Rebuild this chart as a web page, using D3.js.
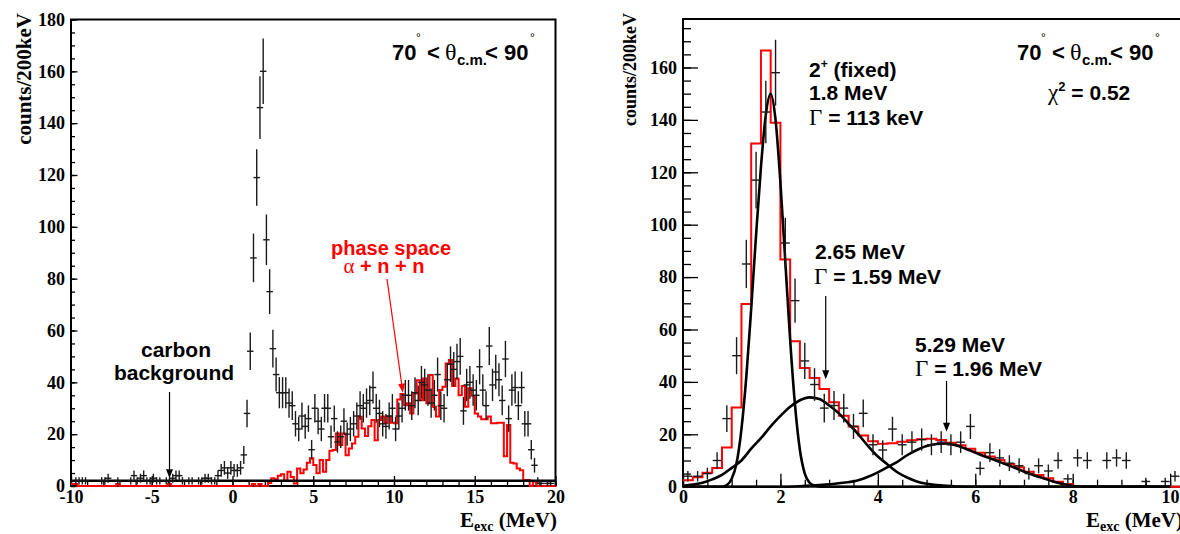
<!DOCTYPE html>
<html>
<head>
<meta charset="utf-8">
<script src="https://cdn.jsdelivr.net/npm/d3@7"></script>
<style>
body { margin: 0; background: #fff; }
</style>
</head>
<body>
<div id="chart"></div>
<script>
// ---- data ----------------------------------------------------------------

var binWidth = 0.2;

// left panel: measured spectrum, bin centres from -9.9 MeV
var leftStart = -9.9;
var leftCounts = [
    0, 2, 2, 2, 2, 0, 0, 0, 0, 2,
    2, 3, 0, 0, 2, 0, 0, 0, 2, 4,
    2, 3, 4, 2, 2, 3, 2, 2, 0, 2,
    2, 3, 4, 4, 2, 0, 2, 2, 0, 2,
    2, 3, 3, 2, 2, 4, 6, 7, 5, 7,
    6, 6, 7, 12, 28, 52, 88, 119, 146, 160,
    95, 75, 53, 43, 36, 36, 36, 32, 31, 24,
    22, 27, 23, 26, 14, 30, 25, 22, 30, 30,
    19, 26, 17, 19, 25, 20, 22, 24, 27, 31,
    30, 32, 33, 38, 30, 28, 24, 23, 27, 30,
    22, 27, 30, 35, 35, 31, 36, 33, 40, 39,
    37, 32, 35, 43, 31, 30, 41, 47, 45, 48,
    50, 29, 39, 40, 37, 35, 46, 37, 31, 54,
    39, 44, 41, 33, 49, 26, 37, 38, 31, 38,
    24, 24, 14, 8, 2, 1, 0, 1, 1
];

// phase space (alpha + n + n), lower bin edges from -10 MeV
var phaseStart = -10;
var phaseCounts = [
    0.8, 0.8, 0, 0, 0, 0, 0, 0, 0, 0,
    0, 0, 0, 0, 0.8, 0, 0, 0, 0, 0,
    0, 0, 0, 0, 0, 0, 0, 0, 0, 0,
    0.8, 0, 0, 0, 0, 0, 0, 0, 0, 0,
    0, 0, 0, 0, 0, 0, 0, 0, 0, 0,
    0, 0, 0, 0, 0, 0, 0.8, 0, 0.8, 0,
    0, 1.2, 3, 2.5, 4, 4.5, 2, 5.5, 3.5, 1,
    6.8, 4.9, 6.4, 9, 10.7, 8.1, 4.9, 10, 5.5, 10,
    13.6, 13.9, 20.3, 15.8, 20.3, 11.9, 14.5, 16.4, 19, 26.7,
    22.2, 19.3, 23.1, 25.5, 17.7, 25.5, 26.8, 24.2, 26.8, 24.4,
    24.2, 33.4, 35.5, 31.2, 31.9, 28, 35.7, 40.8, 33.1, 41.5,
    31.9, 42.8, 30.6, 26.8, 37, 38.3, 47.3, 48.6, 38.6, 41.5,
    35, 38.6, 30.6, 37.7, 34.8, 28, 26.8, 25.8, 25.8, 26.8,
    24.2, 24.2, 24.4, 24.4, 11.5, 23.5, 9, 8.7, 6.8, 6.1,
    2.3, 2.3, 0, 1.7, 0, 0, 0, 0, 0, 0
];

var carbonLevel = 2;

// right panel: measured spectrum, bin centres from 0.1 MeV
var rightStart = 0.1;
var rightCounts = [
    4, 4, 5, 10, 26, 50, 85, 117, 143, 158,
    93, 71, 48, 39, 30, 31, 30, 23, 28, 16,
    14, 22, 16, 17, 18, 16, 17, 16, 17, 23,
    7, 13, 11, 9, 8, 5, 8, 6, 10, 3,
    11, 10, 0, 10, 11, 10, 0, 2, 0, 2,
    4
];

// total fit, lower bin edges from 0 MeV
var fitStart = 0;
var fitTotal = [
    2.5, 3.6, 5.3, 7.1, 15, 30.2, 69.7, 131, 166.5, 138.9,
    86.7, 55.5, 45.3, 41.5, 37.3, 32.2, 27.1, 23, 19.5, 17.3,
    16.4, 16.6, 17.2, 17.7, 18.1, 18.3, 17.8, 16.8, 15.8, 14.5,
    13, 11.5, 10.2, 8.7, 7.4, 5.7, 4.5, 3.2, 1.9, 1.0,
    0, 0, 0, 0, 0, 0, 0, 0, 0, 0,
    0, 0
];

// fit components
var peak1E = [0, 0.8, 0.9, 1.0, 1.1, 1.2, 1.3, 1.4, 1.5, 1.6, 1.7, 1.8, 1.9, 2.0, 2.1, 2.2, 2.3, 2.4, 2.5, 2.6, 2.7, 2.8, 10];
var peak1V = [0, 0, 0.6, 3, 9, 22, 42, 68, 96, 122, 142, 150, 140, 116, 86, 56, 31, 14, 5, 1.5, 0.4, 0, 0];

var peak2E = [0, 0.2, 0.4, 0.6, 0.8, 1.0, 1.2, 1.4, 1.6, 1.8, 2.0, 2.2, 2.4, 2.6, 2.8, 3.0, 3.2, 3.4, 3.6, 3.8, 4.0, 4.2, 4.4, 4.6, 4.8, 5.0, 5.2, 5.4, 5.6, 6.0, 10];
var peak2V = [0.3, 0.8, 1.5, 2.8, 4.5, 7.2, 10, 14.5, 18.5, 23, 27, 30.5, 33, 34.1, 33.5, 31, 28, 24, 20, 15.5, 11.5, 8.5, 5.5, 3.5, 2, 1.1, 0.6, 0.3, 0.1, 0, 0];

var peak3E = [0, 2.0, 2.4, 2.8, 3.2, 3.6, 3.8, 4.0, 4.2, 4.4, 4.6, 4.8, 5.0, 5.2, 5.4, 5.6, 5.8, 6.0, 6.2, 6.4, 6.6, 6.8, 7.0, 7.2, 7.4, 7.6, 7.8, 8.0, 8.2, 10];
var peak3V = [0, 0, 0.2, 0.6, 1.3, 2.5, 3.8, 5.5, 7.5, 9.5, 12, 14, 15.5, 16.3, 16.5, 15.8, 14.5, 13, 11.5, 10.2, 8.7, 7.3, 5.8, 4.4, 3.2, 2, 1, 0.3, 0, 0];

// axis ticks
var leftXMajor = [-10, -5, 0, 5, 10, 15, 20];
var leftYMajor = [0, 20, 40, 60, 80, 100, 120, 140, 160, 180];
var rightXMajor = [0, 2, 4, 6, 8, 10];
var rightYMajor = [0, 20, 40, 60, 80, 100, 120, 140, 160];


// ---- setup ---------------------------------------------------------------

var W = 1180, H = 534;
var sans = '"Liberation Sans", Arial, Helvetica, sans-serif';
var serif = '"Liberation Serif", "Times New Roman", Times, serif';

var svg = d3.select('#chart').append('svg')
    .attr('width', W)
    .attr('height', H)
    .style('display', 'block');

var xL = d3.scaleLinear().domain([-10, 20]).range([71, 555.5]);
var yL = d3.scaleLinear().domain([0, 180]).range([486, 19.5]);
var xR = d3.scaleLinear().domain([0, 10.25]).range([683, 1182.3]);
var yR = d3.scaleLinear().domain([0, 178.5]).range([486.7, 19]);


// ---- helpers -------------------------------------------------------------

function drawAxes(x, y, o) {
    var g = svg.append('g');
    var bottom = y.range()[0], left = x.range()[0];

    g.append('g').attr('transform', 'translate(0,' + bottom + ')')
        .call(d3.axisBottom(x).tickValues(o.xMinor).tickSize(-o.xMinorLen).tickFormat(''));
    g.append('g').attr('transform', 'translate(0,' + bottom + ')')
        .call(d3.axisBottom(x).tickValues(o.xMajor).tickSize(-o.xMajorLen).tickPadding(4)
            .tickFormat(function(d) { return String(d); }));
    g.append('g').attr('transform', 'translate(' + left + ',0)')
        .call(d3.axisLeft(y).tickValues(o.yMinor).tickSize(-o.yMinorLen).tickFormat(''));
    g.append('g').attr('transform', 'translate(' + left + ',0)')
        .call(d3.axisLeft(y).tickValues(o.yMajor).tickSize(-o.yMajorLen).tickPadding(6)
            .tickFormat(function(d) { return String(d); }));

    g.selectAll('.domain').remove();
    g.selectAll('.tick line').attr('stroke', '#000').attr('stroke-width', 1.3);
    g.selectAll('.tick text')
        .attr('fill', '#000')
        .style('font-family', serif)
        .style('font-weight', 'bold')
        .style('font-size', '18px');

    g.append('rect')
        .attr('x', left)
        .attr('y', y.range()[1])
        .attr('width', x.range()[1] - left)
        .attr('height', bottom - y.range()[1])
        .attr('fill', 'none')
        .attr('stroke', '#000')
        .attr('stroke-width', 2);
    return g;
}

function stepHist(x, y, start, values, end, color) {
    var pts = values.map(function(v, i) { return [start + i * binWidth, v]; });
    pts.push([end, values[values.length - 1]]);
    var line = d3.line()
        .x(function(d) { return x(d[0]); })
        .y(function(d) { return y(d[1]); })
        .curve(d3.curveStepAfter);
    svg.append('path')
        .attr('d', line(pts))
        .attr('fill', 'none')
        .attr('stroke', color)
        .attr('stroke-width', 2);
}

function errorPoints(x, y, start, values, halfWidth) {
    var g = svg.append('g').attr('stroke', '#1a1a1a').attr('stroke-width', 1.4);
    var pts = values.map(function(v, i) { return { e: start + i * binWidth, v: v }; })
        .filter(function(d) { return d.v > 0; });
    g.selectAll('line.v').data(pts).enter().append('line')
        .attr('x1', function(d) { return x(d.e); })
        .attr('x2', function(d) { return x(d.e); })
        .attr('y1', function(d) { return y(d.v + Math.sqrt(d.v)); })
        .attr('y2', function(d) { return y(Math.max(0, d.v - Math.sqrt(d.v))); });
    g.selectAll('line.h').data(pts).enter().append('line')
        .attr('x1', function(d) { return x(d.e - halfWidth); })
        .attr('x2', function(d) { return x(d.e + halfWidth); })
        .attr('y1', function(d) { return y(d.v); })
        .attr('y2', function(d) { return y(d.v); });
}

function curve(x, y, es, vs) {
    var line = d3.line()
        .x(function(d) { return x(d[0]); })
        .y(function(d) { return y(d[1]); })
        .curve(d3.curveMonotoneX);
    svg.append('path')
        .attr('d', line(es.map(function(e, i) { return [e, vs[i]]; })))
        .attr('fill', 'none')
        .attr('stroke', '#000')
        .attr('stroke-width', 2.6);
}

function arrow(x, y1, x2, y2, color) {
    var ang = Math.atan2(y2 - y1, x2 - x);
    var len = 9, wid = 3.5;
    svg.append('line')
        .attr('x1', x).attr('y1', y1)
        .attr('x2', x2 - Math.cos(ang) * 4).attr('y2', y2 - Math.sin(ang) * 4)
        .attr('stroke', color).attr('stroke-width', 1.2);
    var bx = x2 - Math.cos(ang) * len, by = y2 - Math.sin(ang) * len;
    svg.append('path')
        .attr('d', 'M' + x2 + ',' + y2 +
            'L' + (bx - Math.sin(ang) * wid) + ',' + (by + Math.cos(ang) * wid) +
            'L' + (bx + Math.sin(ang) * wid) + ',' + (by - Math.cos(ang) * wid) + 'Z')
        .attr('fill', color);
}

function text(x, y, str, opts) {
    opts = opts || {};
    return svg.append('text')
        .attr('x', x).attr('y', y)
        .attr('text-anchor', opts.anchor || 'start')
        .attr('fill', opts.color || '#000')
        .style('font-family', opts.family || sans)
        .style('font-weight', opts.weight || 'bold')
        .style('font-size', (opts.size || 21) + 'px')
        .text(str);
}

function thetaLabel(dx) {
    text(392 + dx, 60, '70', { size: 22 });
    text(416 + dx, 42, '°', { size: 12, weight: 'normal' });
    text(427 + dx, 60, '<', { size: 22 });
    text(445 + dx, 60, 'θ', { size: 24, family: serif, weight: 'normal' });
    text(457 + dx, 65, 'c.m.', { size: 15 });
    text(485 + dx, 60, '<', { size: 22 });
    text(504 + dx, 60, '90', { size: 22 });
    text(530 + dx, 42, '°', { size: 12, weight: 'normal' });
}

function xTitle(xEnd) {
    var t = svg.append('text')
        .attr('x', xEnd).attr('y', 527)
        .attr('text-anchor', 'end')
        .style('font-family', serif)
        .style('font-weight', 'bold')
        .style('font-size', '21px');
    t.append('tspan').text('E');
    t.append('tspan').attr('dy', 4).style('font-size', '14px').text('exc');
    t.append('tspan').attr('dy', -4).text(' (MeV)');
}

function yTitle(xPos, size) {
    svg.append('text')
        .attr('transform', 'translate(' + xPos + ',13) rotate(-90)')
        .attr('text-anchor', 'end')
        .style('font-family', serif)
        .style('font-weight', 'bold')
        .style('font-size', size + 'px')
        .text('counts/200keV');
}


// ---- left panel ----------------------------------------------------------

drawAxes(xL, yL, {
    xMajor: leftXMajor, xMinor: d3.range(-10, 20.01, 1),
    yMajor: leftYMajor, yMinor: d3.range(0, 180.01, 5),
    xMajorLen: 10, xMinorLen: 5, yMajorLen: 6.5, yMinorLen: 4
});

stepHist(xL, yL, phaseStart, phaseCounts, 20, '#ff0000');

svg.append('line')
    .attr('x1', xL(-10)).attr('x2', xL(20))
    .attr('y1', yL(carbonLevel)).attr('y2', yL(carbonLevel))
    .attr('stroke', '#000').attr('stroke-width', 2.4);

errorPoints(xL, yL, leftStart, leftCounts, 0.2);

thetaLabel(0);
text(176, 357, 'carbon', { anchor: 'middle' });
text(174, 380, 'background', { anchor: 'middle' });
arrow(xL(-3.9), 392, xL(-3.9), yL(3), '#000');

text(391, 255, 'phase space', { anchor: 'middle', color: '#ff0000', size: 20 });
var an = svg.append('text')
    .attr('x', 384).attr('y', 273)
    .attr('text-anchor', 'middle')
    .attr('fill', '#ff0000')
    .style('font-family', sans)
    .style('font-weight', 'bold')
    .style('font-size', '20px');
an.append('tspan').style('font-family', serif).style('font-weight', 'normal').style('font-size', '21px').text('α');
an.append('tspan').text(' + n + n');
arrow(387, 279, xL(10.55), yL(36), '#ff0000');

xTitle(557);
yTitle(31, 21);


// ---- right panel ---------------------------------------------------------

drawAxes(xR, yR, {
    xMajor: rightXMajor, xMinor: d3.range(0, 10.01, 0.5),
    yMajor: rightYMajor, yMinor: d3.range(0, 175.01, 5),
    xMajorLen: 13, xMinorLen: 7, yMajorLen: 15, yMinorLen: 8
});

stepHist(xR, yR, fitStart, fitTotal, 10.25, '#ff0000');
curve(xR, yR, peak1E, peak1V);
curve(xR, yR, peak2E, peak2V);
curve(xR, yR, peak3E, peak3V);
errorPoints(xR, yR, rightStart, rightCounts, 0.09);

thetaLabel(625);

var chi = svg.append('text')
    .attr('x', 1048).attr('y', 100)
    .style('font-family', sans).style('font-weight', 'bold').style('font-size', '21px');
chi.append('tspan').style('font-family', serif).style('font-weight', 'normal').style('font-size', '23px').text('χ');
chi.append('tspan').attr('dy', -9).style('font-size', '13px').text('2');
chi.append('tspan').attr('dy', 9).text(' = 0.52');

var lab = svg.append('text')
    .attr('x', 809).attr('y', 77)
    .style('font-family', sans).style('font-weight', 'bold').style('font-size', '21px');
lab.append('tspan').text('2');
lab.append('tspan').attr('dy', -9).style('font-size', '12px').text('+');
lab.append('tspan').attr('dy', 9).text(' (fixed)');
text(809, 100, '1.8 MeV');

function gammaLine(x, y, str) {
    var t = svg.append('text')
        .attr('x', x).attr('y', y)
        .style('font-family', sans).style('font-weight', 'bold').style('font-size', '21px');
    t.append('tspan').style('font-family', serif).style('font-weight', 'normal').style('font-size', '23px').text('Γ');
    t.append('tspan').text(' = ' + str);
}
gammaLine(809, 125, '113 keV');

text(815, 259, '2.65 MeV');
gammaLine(814, 284, '1.59 MeV');
arrow(xR(2.93), 296, xR(2.93), yR(41), '#000');

text(915, 352, '5.29 MeV');
gammaLine(915, 376, '1.96 MeV');
arrow(xR(5.41), 381, xR(5.41), yR(21), '#000');

xTitle(1183);
yTitle(636, 18);
</script>
</body>
</html>
